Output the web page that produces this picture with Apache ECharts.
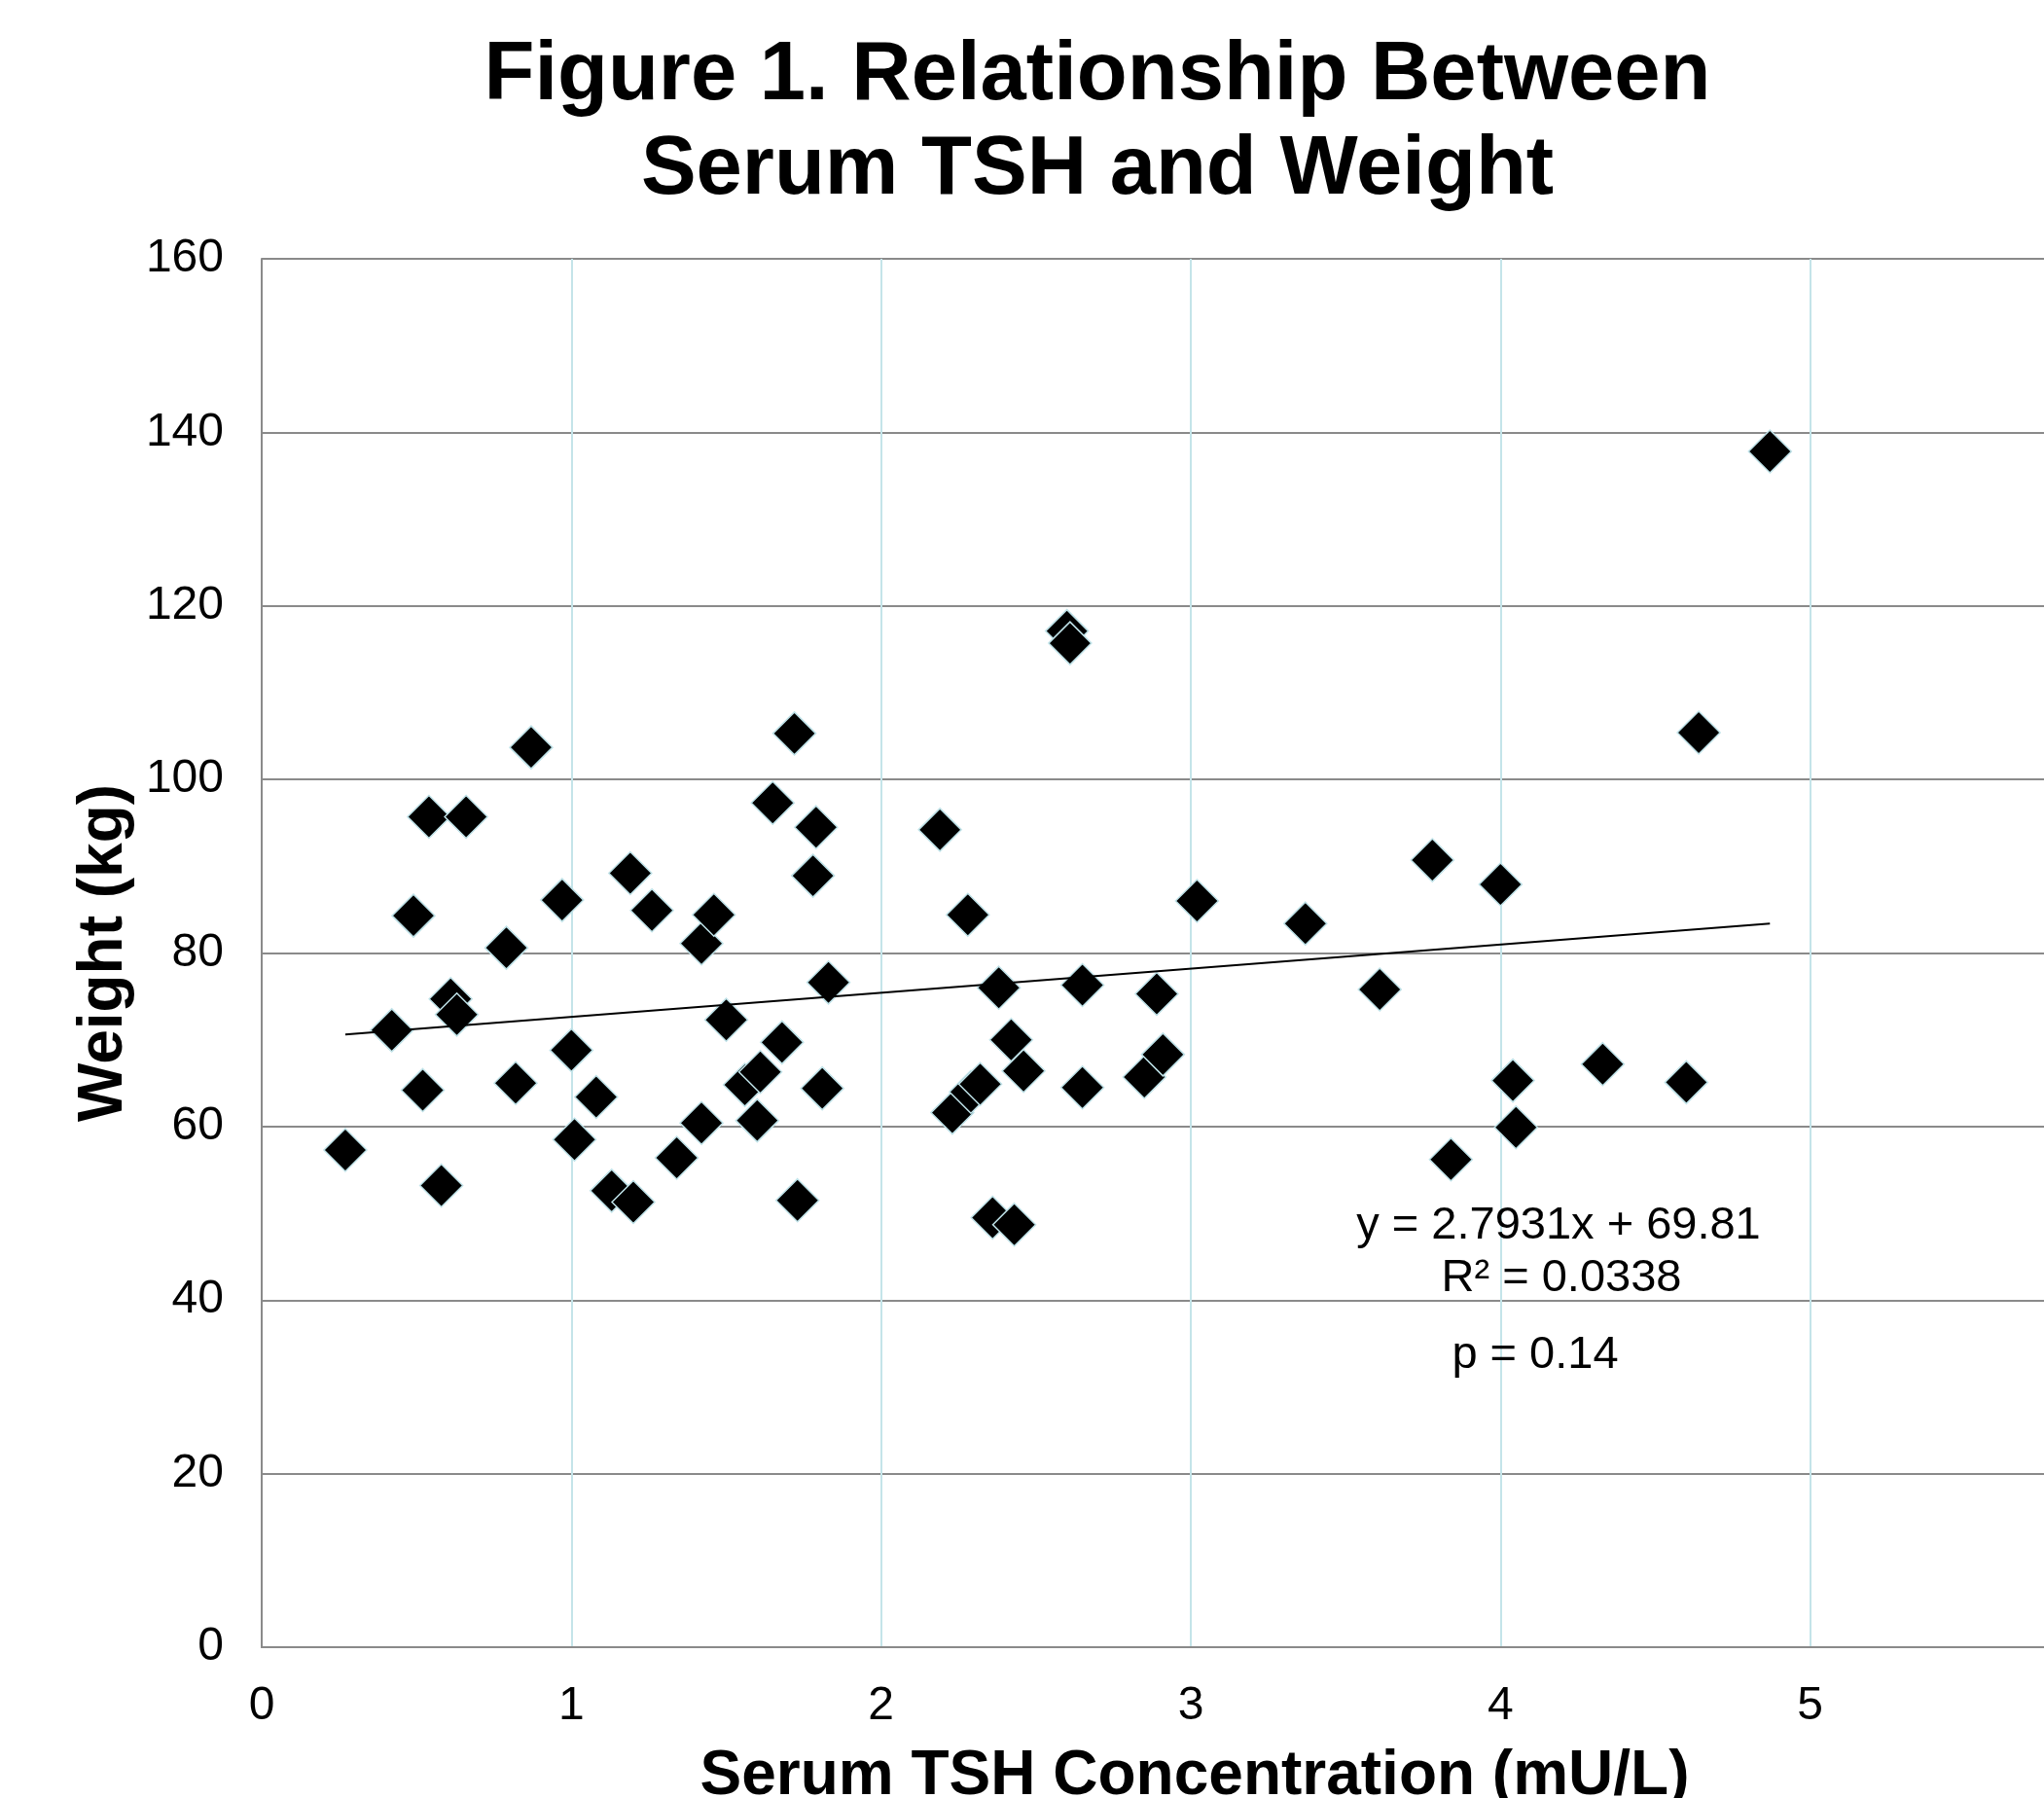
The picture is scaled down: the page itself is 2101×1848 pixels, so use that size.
<!DOCTYPE html>
<html>
<head>
<meta charset="utf-8">
<script src="https://cdn.jsdelivr.net/npm/echarts@6/dist/echarts.min.js"></script>
<style>
html,body{margin:0;padding:0;background:#fff;}
#chart{width:2101px;height:1848px;}
</style>
</head>
<body>
<div id="chart"></div>
<script>
// Serum TSH (mU/L)
const tsh = [0.27,0.42,0.49,0.52,0.54,0.58,0.61,0.63,0.66,0.79,0.82,0.87,0.97,1.00,1.01,1.08,1.13,1.19,1.20,1.26,
  1.34,1.42,1.42,1.46,1.50,1.56,1.60,1.61,1.65,1.68,1.72,1.73,1.78,1.79,1.81,1.83,2.19,2.23,2.28,2.29,
  2.32,2.36,2.38,2.42,2.43,2.46,2.60,2.61,2.65,2.65,2.85,2.89,2.91,3.02,3.37,3.61,3.78,3.84,4.00,4.04,
  4.05,4.33,4.60,4.64,4.87];
// Weight (kg)
const weight = [57.3,71.1,84.3,64.2,95.7,53.2,74.7,72.9,95.7,80.6,65.0,103.7,86.1,68.8,58.5,63.4,52.6,89.2,51.3,84.9,
  56.4,81.1,60.4,84.4,72.3,64.8,60.7,66.3,97.3,69.7,105.3,51.5,88.9,94.5,64.4,76.6,94.2,61.6,84.4,64.0,
  64.9,49.5,76.0,70.0,48.7,66.4,117.1,115.7,76.3,64.5,65.7,75.3,68.3,86.0,83.4,75.8,90.7,56.2,87.9,65.3,
  59.9,67.2,65.1,105.4,137.8];
// Linear trend line endpoints
const trendX = [0.27, 4.87];
const trendY = [70.6, 83.4];
// Axis ticks
const xTicks = [0,1,2,3,4,5,6];
const yTicks = [0,20,40,60,80,100,120,140,160];
// Texts
const titleText = 'Figure 1. Relationship Between\nSerum TSH and Weight';
const xName = 'Serum TSH Concentration (mU/L)';
const yName = 'Weight (kg)';
const eqLines = ['y = 2.7931x + 69.81', 'R\u00b2 = 0.0338', 'p = 0.14'];

const FONT = "'Liberation Sans', Arial, sans-serif";
const scatterData = tsh.map((x, i) => [x, weight[i]]);
const trendData = trendX.map((x, i) => [x, trendY[i]]);

const chart = echarts.init(document.getElementById('chart'), null, {renderer: 'canvas'});
chart.setOption({
  backgroundColor: '#ffffff',
  animation: false,
  title: {
    text: titleText,
    left: 1123,
    top: 25,
    textAlign: 'center',
    textStyle: {fontFamily: FONT, fontSize: 85, fontWeight: 'bold', color: '#000', lineHeight: 97}
  },
  grid: {left: 269, top: 266, width: 1910, height: 1427, containLabel: false, outerBoundsMode: 'none'},
  xAxis: {
    type: 'value', min: xTicks[0], max: xTicks[xTicks.length - 1], interval: 1,
    name: xName, nameLocation: 'middle', nameGap: 101,
    nameTextStyle: {fontFamily: FONT, fontSize: 64, fontWeight: 'bold', color: '#000', padding: [0, 0, 0, 8]},
    axisLine: {show: true, lineStyle: {color: '#8a8a8a', width: 2}},
    axisTick: {show: false},
    axisLabel: {fontFamily: FONT, fontSize: 48, color: '#000', margin: 37},
    splitLine: {show: true, lineStyle: {color: '#c4e4e9', width: 2}}
  },
  yAxis: {
    type: 'value', min: yTicks[0], max: yTicks[yTicks.length - 1], interval: 20,
    name: yName, nameLocation: 'middle', nameGap: 125,
    nameTextStyle: {fontFamily: FONT, fontSize: 64, fontWeight: 'bold', color: '#000'},
    axisLine: {show: true, lineStyle: {color: '#8a8a8a', width: 2}},
    axisTick: {show: false},
    axisLabel: {fontFamily: FONT, fontSize: 48, color: '#000', margin: 39},
    splitLine: {show: true, lineStyle: {color: '#8a8a8a', width: 2}}
  },
  series: [
    {
      type: 'scatter',
      data: scatterData,
      symbol: 'diamond',
      symbolSize: 44,
      itemStyle: {color: '#000', borderColor: '#bfe2e8', borderWidth: 1.5, opacity: 1},
      z: 3
    },
    {
      type: 'line',
      data: trendData,
      symbol: 'none',
      lineStyle: {color: '#000', width: 2},
      z: 4
    }
  ],
  graphic: [
    {type: 'text', x: 1602, y: 1260, style: {text: eqLines[0], font: "47px 'Liberation Sans', Arial, sans-serif", fill: '#000', align: 'center', verticalAlign: 'middle'}, z: 10},
    {type: 'text', x: 1605, y: 1314, style: {text: eqLines[1], font: "47px 'Liberation Sans', Arial, sans-serif", fill: '#000', align: 'center', verticalAlign: 'middle'}, z: 10},
    {type: 'text', x: 1578, y: 1393, style: {text: eqLines[2], font: "47px 'Liberation Sans', Arial, sans-serif", fill: '#000', align: 'center', verticalAlign: 'middle'}, z: 10}
  ]
});
</script>
</body>
</html>
